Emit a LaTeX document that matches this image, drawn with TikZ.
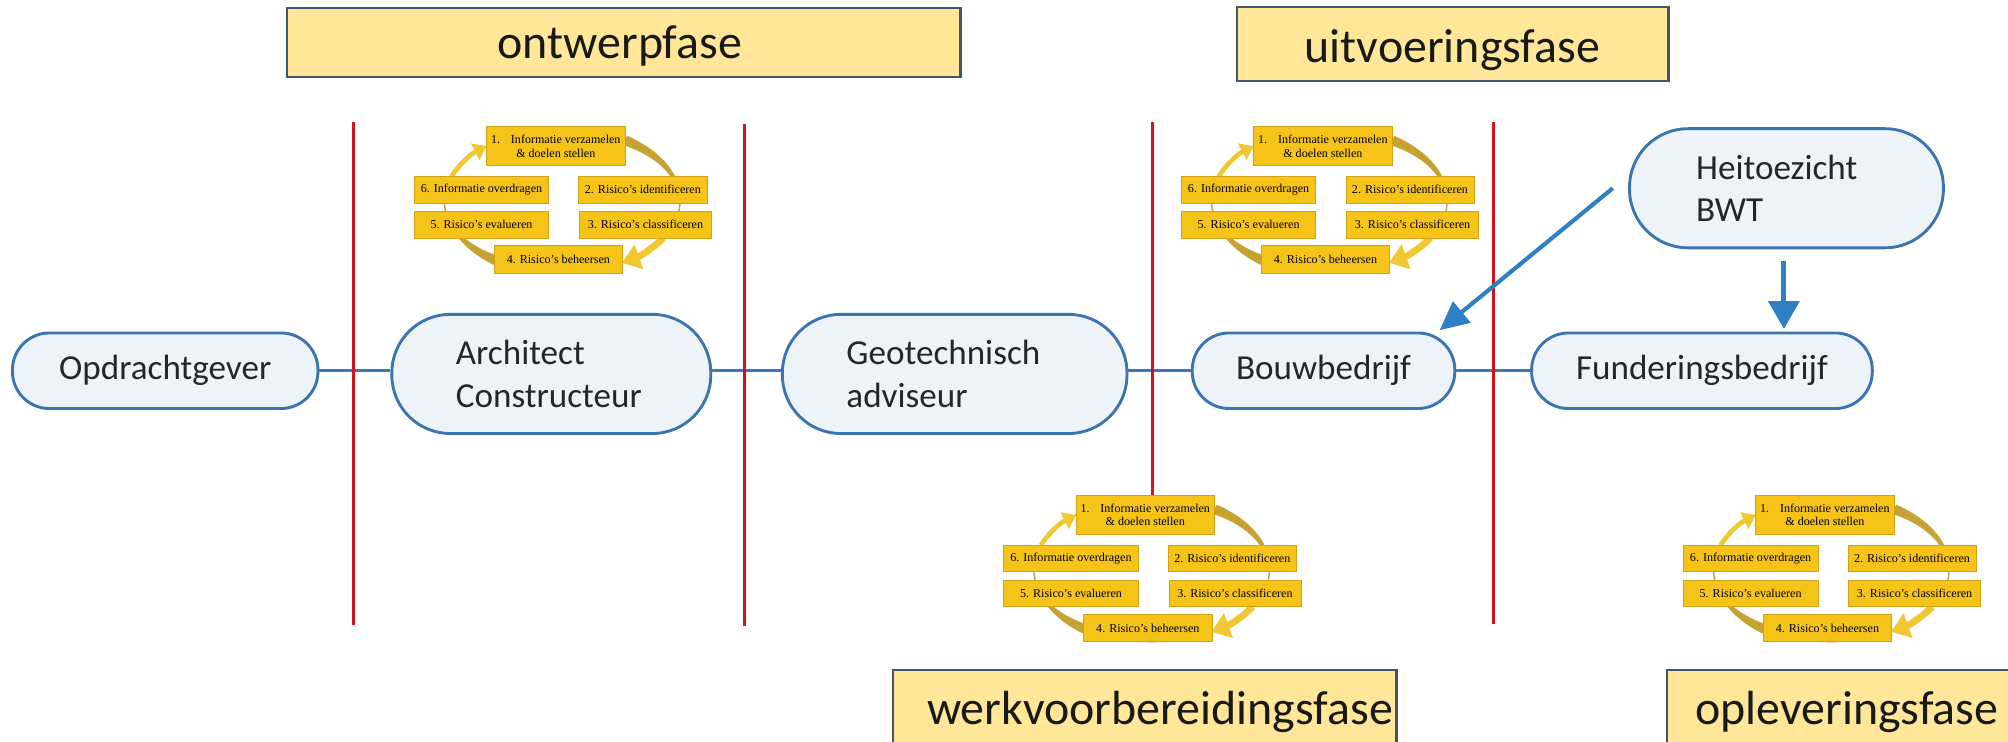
\documentclass[tikz,border=0pt]{standalone}
\usepackage{fontspec}
\setmainfont{Carlito}
\newfontfamily\cycfont{Liberation Serif}
\usetikzlibrary{arrows.meta,calc}

\definecolor{phasefill}{HTML}{FFE699}
\definecolor{phaseline}{HTML}{44546A}
\definecolor{nodefill}{HTML}{EEF3FA}
\definecolor{nodeline}{HTML}{3A75B0}
\definecolor{connblue}{HTML}{3A78B8}
\definecolor{arrowblue}{HTML}{2E7FC3}
\definecolor{redline}{HTML}{D0141C}
\definecolor{cycbox}{HTML}{F6C419}
\definecolor{cycboxline}{HTML}{D0A21A}
\definecolor{ringdark}{HTML}{C6A232}
\definecolor{ringlight}{HTML}{F2C832}

\tikzset{
  pics/riskcycle/.style={code={
    \draw[ringdark, line width=0.8pt] (0,0) ellipse [x radius=92, y radius=56];
    % tapered segment 1 -> 2
    \fill[ringdark] plot[domain=302:340, samples=20, variable=\t]
        ({(92+(4-2.4*(\t-302)/38))*cos(\t)}, {(56+(4-2.4*(\t-302)/38))*sin(\t)})
      -- plot[domain=340:302, samples=20, variable=\t]
        ({(92-(4-2.4*(\t-302)/38))*cos(\t)}, {(56-(4-2.4*(\t-302)/38))*sin(\t)}) -- cycle;
    % tapered segment 4 -> 5
    \fill[ringdark] plot[domain=124:150, samples=20, variable=\t]
        ({(92+(4-2.4*(\t-124)/26))*cos(\t)}, {(56+(4-2.4*(\t-124)/26))*sin(\t)})
      -- plot[domain=150:124, samples=20, variable=\t]
        ({(92-(4-2.4*(\t-124)/26))*cos(\t)}, {(56-(4-2.4*(\t-124)/26))*sin(\t)}) -- cycle;
    % arrow 6 -> 1
    \draw[ringlight, line width=2.6pt, -{Triangle[length=7pt,width=10pt]}]
      (200:92 and 56) arc[start angle=200, end angle=230, x radius=92, y radius=56];
    % arrow 3 -> 4
    \draw[ringlight, line width=3.8pt, -{Triangle[length=10pt,width=14pt]}]
      (31:92 and 56) arc[start angle=31, end angle=59.5, x radius=92, y radius=56];
    \node[cbox, minimum width=2.7cm, minimum height=0.775cm] (-b1) at (-5,-43)
      {1.\hspace{0.9em}Informatie verzamelen\\\& doelen stellen};
    \node[cbox, minimum width=2.625cm] (-b6) at (-63,-9) {6. Informatie overdragen};
    \node[cbox, minimum width=2.5cm] (-b2) at (63,-9) {2. Risico’s identificeren};
    \node[cbox, minimum width=2.625cm] (-b5) at (-63,18.3) {5. Risico’s evalueren};
    \node[cbox, minimum width=2.575cm] (-b3) at (65,18.3) {3. Risico’s classificeren};
    \node[cbox, minimum width=2.5cm, minimum height=0.535cm] (-b4) at (-3,45.4) {4. Risico’s beheersen};
  }}
}

\begin{document}
\begin{tikzpicture}[x=0.025cm, y=-0.025cm,
  phase/.style={draw=phaseline, line width=1.3pt, fill=phasefill, inner sep=0pt},
  phasetext/.style={font=\fontsize{26.6}{30}\selectfont, text=black!90, inner sep=0pt},
  actor/.style={rectangle, rounded corners=0.72cm, draw=nodeline, line width=1.6pt,
    fill=nodefill, font=\fontsize{19.5}{23.5}\selectfont, text=black!85,
    minimum height=1.475cm, inner sep=0pt},
  actortwo/.style={actor, rounded corners=1.14cm, minimum height=2.325cm, align=left, inner xsep=1.25cm},
  connline/.style={draw=connblue, line width=1.7pt},
  redsep/.style={draw=redline, line width=1.7pt},
  barrow/.style={draw=arrowblue, line width=2.3pt, -{Triangle[length=16pt,width=15pt]}},
  barrowv/.style={draw=arrowblue, line width=2.8pt, -{Triangle[length=15.5pt,width=17pt]}},
  cbox/.style={draw=cycboxline, line width=0.4pt, fill=cycbox, text=black,
    font=\cycfont\fontsize{6.7}{7.6}\selectfont, inner sep=0pt, minimum height=0.525cm, align=center},
]
\useasboundingbox (0,0) rectangle (1568,579);
\fill[white] (0,0) rectangle (1568,579);
\clip (0,0) rectangle (1568,579);

% phase boxes
\node[phase, minimum width=13.15cm, minimum height=1.3375cm] (p1) at (487,33.25) {};
\node[phasetext, anchor=base] (t1) at (484,45.6) {ontwerpfase};
\node[phase, minimum width=8.425cm, minimum height=1.4375cm] (p2) at (1134.25,34.25) {};
\node[phasetext, anchor=base] (t2) at (1134.2,48.5) {uitvoeringsfase};
\node[phase, minimum width=9.8275cm, minimum height=1.925cm] (p3) at (894,561.5) {};
\node[phasetext, anchor=base west] (t3) at (723.6,566) {werkvoorbereidingsfase};
\node[phase, minimum width=7.4625cm, minimum height=1.925cm] (p4) at (1450.75,561.6) {};
\node[phasetext, anchor=base west] (t4) at (1323.6,566) {opleveringsfase};

% risk cycles
\pic (cyc1) at (439,157) {riskcycle};
\pic (cyc2) at (1038,157) {riskcycle};
\pic (cyc3) at (899.3,445) {riskcycle};
\pic (cyc4) at (1430,445) {riskcycle};

% actors
\node[actor, minimum width=5.9625cm] (O) at (129,289.5) {Opdrachtgever};
\node[actortwo, text width=3.725cm] (A) at (430.5,292) {Architect\\Constructeur};
\node[actortwo, text width=4.225cm] (G) at (745.5,292) {Geotechnisch\\adviseur};
\node[actor, minimum width=5.125cm] (B) at (1033.5,289.5) {Bouwbedrijf};
\node[actor, minimum width=6.65cm] (F) at (1329,289.5) {Funderingsbedrijf};
\node[actortwo, inner xsep=1.3cm, text width=3.525cm] (H) at (1395,147) {Heitoezicht\\BWT};

% connectors
\draw[connline] (O.east) -- (O.east -| A.west);
\draw[connline] (O.east -| A.east) -- (O.east -| G.west);
\draw[connline] (O.east -| G.east) -- (B.west);
\draw[connline] (B.east) -- (F.west);

% red separators
\coordinate (r3top) at (900,95);
\draw[redsep] (276,95) -- (276,488);
\draw[redsep] (581,97) -- (581,489);
\draw[redsep] (r3top) -- (r3top |- cyc3-b1.north);
\draw[redsep] (1166.5,95) -- (1166.5,487);

% arrows from Heitoezicht
\draw[barrow] ($(H.west)+(-12,0)$) -- ($(B.north east)+(-13,-1)$);
\draw[barrowv] ($(H.south)+(-2,9)$) -- ($(H.south |- F.north)+(-2,-2)$);
\end{tikzpicture}
\end{document}
